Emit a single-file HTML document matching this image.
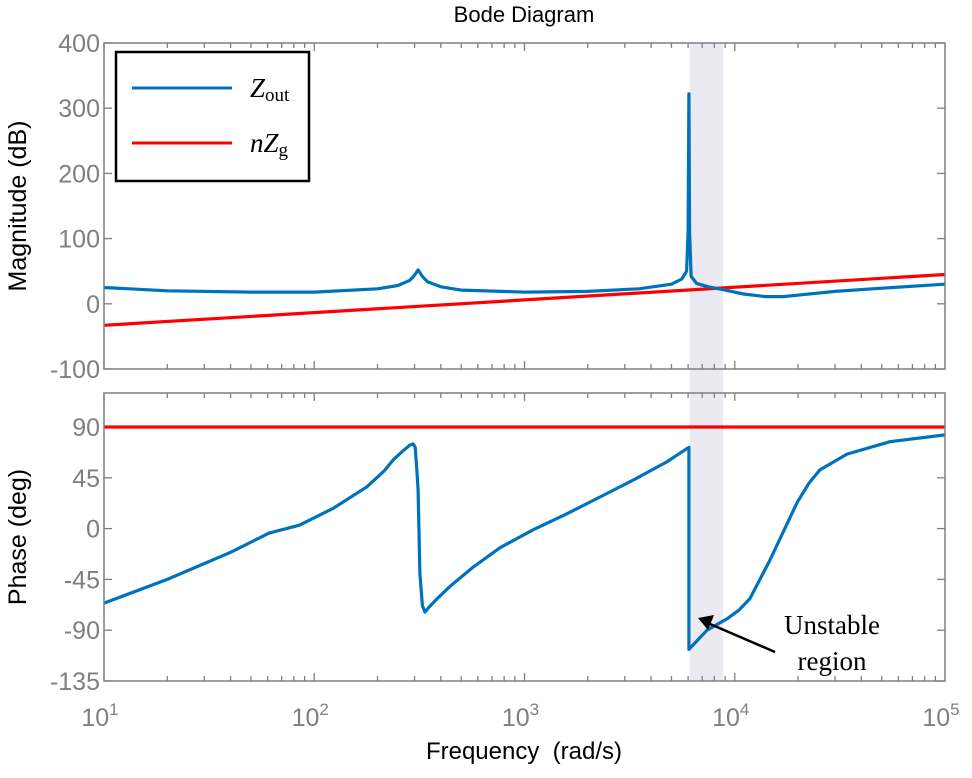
<!DOCTYPE html>
<html><head><meta charset="utf-8"><style>
body{margin:0;background:#fff}
svg text{font-family:"Liberation Sans",sans-serif}
svg text.serif{font-family:"Liberation Serif",serif}
</style></head><body>
<svg id="chart" width="972" height="773" xmlns="http://www.w3.org/2000/svg">
<text x="524" y="22" text-anchor="middle" font-size="22" fill="#000">Bode Diagram</text>
<g id="band"></g>
<g id="ticks"></g>
<g id="series"></g>
<rect x="104" y="43" width="841" height="326" fill="none" stroke="#7f7f7f" stroke-width="1.5"/>
<rect x="104" y="393" width="841" height="288" fill="none" stroke="#7f7f7f" stroke-width="1.5"/>
<text transform="translate(26,206) rotate(-90)" text-anchor="middle" font-size="25" fill="#000">Magnitude (dB)</text>
<text transform="translate(26,537) rotate(-90)" text-anchor="middle" font-size="25" fill="#000">Phase (deg)</text>
<text x="524" y="759" text-anchor="middle" font-size="24" fill="#000" xml:space="preserve">Frequency  (rad/s)</text>
<g>
<rect x="116" y="52" width="193" height="129" fill="#fff" stroke="#000" stroke-width="2.5"/>
<line x1="132" y1="88" x2="232" y2="88" stroke="#0072bd" stroke-width="3"/>
<text class="serif" x="250" y="97" font-size="27"><tspan font-style="italic">Z</tspan><tspan font-size="19" dy="4">out</tspan></text>
<line x1="132" y1="143" x2="232" y2="143" stroke="#ff0000" stroke-width="3"/>
<text class="serif" x="250" y="152" font-size="27"><tspan font-style="italic">nZ</tspan><tspan font-size="19" dy="4">g</tspan></text>
</g>
<g>
<line x1="775" y1="652" x2="710" y2="624" stroke="#000" stroke-width="2.5"/>
<polygon points="698,618 714,615 708,630" fill="#000"/>
<text class="serif" x="832" y="634" text-anchor="middle" font-size="27">Unstable</text>
<text class="serif" x="832" y="670" text-anchor="middle" font-size="27">region</text>
</g>
</svg>
<script>
const magFreq=[10,20,50,100,200,250,285,300,312,325,345,400,500,1000,2000,3500,5000,5600,5900,6000,6050,6100,6200,6600,7500,9000,11000,14000,17000,21000,30000,50000,100000];
const magZout=[25,20,18,18,23,28,36,44,52,43,34,26,21,18,19,23,30,38,50,110,322,110,42,31,26,21,15,11,11,14,19,24,30];
const magFreqZg=[10,100000];
const magZg=[-33,45];
const phFreq=[10,20,40,61,85,123,178,215,238,265,285,295,302,308,312,318,327,336,350,380,443,571,764,1101,1585,2285,3290,4740,6050,6051,7380,9180,10500,11800,13000,14700,17000,19800,22500,25400,34200,54700,100000];
const phZout=[-66,-45,-21,-4,3,18,37,51,61,69,74,75,72,50,34,-40,-68,-74,-70,-63,-51,-34,-17,-1,13,28,43,59,72,-107,-90,-80,-72,-62,-47,-28,-3,23,40,52,66,77,83];
const phZg=[90,90];
const magTicks=[400,300,200,100,0,-100];
const phTicks=[90,45,0,-45,-90,-135];
const decades=[1,2,3,4,5];
const bandRange=[6120,8790];

const NS="http://www.w3.org/2000/svg";
const X0=104,X1=945;
function xs(f){return X0+(Math.log10(f)-1)/4*(X1-X0);}
function ym(d){return 43+(400-d)/500*326;}
function yp(p){return 427+(90-p)/45*50.8;}
function mk(tag,attrs,parent){const e=document.createElementNS(NS,tag);for(const k in attrs)e.setAttribute(k,attrs[k]);parent.appendChild(e);return e;}
const band=document.getElementById('band'),ticks=document.getElementById('ticks'),series=document.getElementById('series');
let r=mk('rect',{x:xs(bandRange[0]),y:43,width:xs(bandRange[1])-xs(bandRange[0]),height:638,fill:'#ebe9f1'},band);


[[43,369],[393,681]].forEach(([t,b])=>{
 for(let d=1;d<5;d++){for(let m=1;m<10;m++){const x=xs(m*Math.pow(10,d));const L=m===1?8:5;
  let l1=mk('line',{x1:x,y1:t,x2:x,y2:t+L,stroke:'#7f7f7f','stroke-width':1.3},ticks);
  
  
  let l2=mk('line',{x1:x,y1:b,x2:x,y2:b-L,stroke:'#7f7f7f','stroke-width':1.3},ticks);
  
  }}
});
decades.forEach(d=>{const x=xs(Math.pow(10,d));
 const t=mk('text',{x:x-4,y:726,'text-anchor':'middle','font-size':25,fill:'#7f7f7f'},ticks);
 
 
 t.innerHTML='10<tspan font-size="17" dy="-11">'+d+'</tspan>';});
magTicks.forEach(v=>{const y=ym(v);
 const t=mk('text',{x:100,y:y+9,'text-anchor':'end','font-size':25,fill:'#7f7f7f'},ticks);
 t.textContent=v;
 
 
 [[X0,X0+8],[X1,X1-8]].forEach(([a,b])=>{const l=mk('line',{x1:a,y1:y,x2:b,y2:y,stroke:'#7f7f7f','stroke-width':1.3},ticks);
 
 });});
phTicks.forEach(v=>{const y=yp(v);
 const t=mk('text',{x:100,y:y+9,'text-anchor':'end','font-size':25,fill:'#7f7f7f'},ticks);
 t.textContent=v;
 
 
 [[X0,X0+8],[X1,X1-8]].forEach(([a,b])=>{const l=mk('line',{x1:a,y1:y,x2:b,y2:y,stroke:'#7f7f7f','stroke-width':1.3},ticks);
 
 });});
function path(fr,vals,yf){return fr.map((f,i)=>(i?'L':'M')+xs(f).toFixed(1)+','+yf(vals[i]).toFixed(1)).join(' ');}
let p1=mk('path',{d:path(magFreqZg,magZg,ym),stroke:'#ff0000','stroke-width':3.2,fill:'none'},series);


let p2=mk('path',{d:path(magFreq,magZout,ym),stroke:'#0072bd','stroke-width':3.2,fill:'none','stroke-linejoin':'round'},series);


let p3=mk('path',{d:path(magFreqZg,phZg,yp),stroke:'#ff0000','stroke-width':3.2,fill:'none'},series);


let p4=mk('path',{d:path(phFreq,phZout,yp),stroke:'#0072bd','stroke-width':3.2,fill:'none','stroke-linejoin':'round'},series);


</script>
</body></html>
